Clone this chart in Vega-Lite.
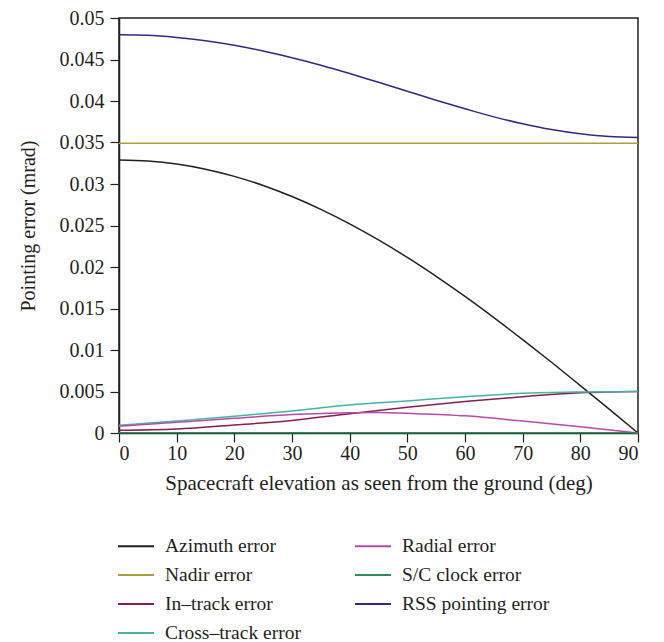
{
  "$schema": "https://vega.github.io/schema/vega-lite/v6.json",
  "width": 519,
  "height": 415,
  "autosize": {"type": "none"},
  "padding": {"left": 119, "top": 18, "right": 26, "bottom": 209},
  "background": "white",
  "config": {
    "font": "Liberation Serif",
    "view": {"stroke": "#231f20", "strokeWidth": 1.5},
    "axis": {
      "labelFont": "Liberation Serif",
      "titleFont": "Liberation Serif",
      "labelFontSize": 20,
      "titleFontSize": 20,
      "titleFontWeight": "normal",
      "labelColor": "#231f20",
      "titleColor": "#231f20",
      "domainColor": "#231f20",
      "domainWidth": 1.5,
      "tickColor": "#231f20",
      "tickWidth": 1.2,
      "tickSize": 9,
      "grid": false
    },
    "legend": {
      "labelFont": "Liberation Serif",
      "labelFontSize": 19.5,
      "labelColor": "#231f20"
    }
  },
  "datasets": {
    "errs": [
      {"e": 0, "s": "Azimuth error", "v": 0.0329},
      {"e": 5, "s": "Azimuth error", "v": 0.03277},
      {"e": 10, "s": "Azimuth error", "v": 0.0324},
      {"e": 15, "s": "Azimuth error", "v": 0.03178},
      {"e": 20, "s": "Azimuth error", "v": 0.03092},
      {"e": 25, "s": "Azimuth error", "v": 0.02982},
      {"e": 30, "s": "Azimuth error", "v": 0.02849},
      {"e": 35, "s": "Azimuth error", "v": 0.02695},
      {"e": 40, "s": "Azimuth error", "v": 0.0252},
      {"e": 45, "s": "Azimuth error", "v": 0.02326},
      {"e": 50, "s": "Azimuth error", "v": 0.02115},
      {"e": 55, "s": "Azimuth error", "v": 0.01887},
      {"e": 60, "s": "Azimuth error", "v": 0.01645},
      {"e": 65, "s": "Azimuth error", "v": 0.0139},
      {"e": 70, "s": "Azimuth error", "v": 0.01125},
      {"e": 75, "s": "Azimuth error", "v": 0.00852},
      {"e": 80, "s": "Azimuth error", "v": 0.00571},
      {"e": 85, "s": "Azimuth error", "v": 0.00287},
      {"e": 90, "s": "Azimuth error", "v": 0.0},
      {"e": 0, "s": "Nadir error", "v": 0.0349},
      {"e": 45, "s": "Nadir error", "v": 0.0349},
      {"e": 90, "s": "Nadir error", "v": 0.0349},
      {"e": 0, "s": "In–track error", "v": 0.00033},
      {"e": 10, "s": "In–track error", "v": 0.00048},
      {"e": 20, "s": "In–track error", "v": 0.00096},
      {"e": 30, "s": "In–track error", "v": 0.00152},
      {"e": 40, "s": "In–track error", "v": 0.00233},
      {"e": 50, "s": "In–track error", "v": 0.0031},
      {"e": 60, "s": "In–track error", "v": 0.0038},
      {"e": 70, "s": "In–track error", "v": 0.00437},
      {"e": 80, "s": "In–track error", "v": 0.00486},
      {"e": 90, "s": "In–track error", "v": 0.005},
      {"e": 0, "s": "Cross–track error", "v": 0.00093},
      {"e": 10, "s": "Cross–track error", "v": 0.00145},
      {"e": 20, "s": "Cross–track error", "v": 0.00201},
      {"e": 30, "s": "Cross–track error", "v": 0.00266},
      {"e": 40, "s": "Cross–track error", "v": 0.00337},
      {"e": 50, "s": "Cross–track error", "v": 0.00386},
      {"e": 60, "s": "Cross–track error", "v": 0.00437},
      {"e": 70, "s": "Cross–track error", "v": 0.00478},
      {"e": 80, "s": "Cross–track error", "v": 0.00494},
      {"e": 90, "s": "Cross–track error", "v": 0.005},
      {"e": 0, "s": "Radial error", "v": 0.0008},
      {"e": 10, "s": "Radial error", "v": 0.00129},
      {"e": 20, "s": "Radial error", "v": 0.00177},
      {"e": 30, "s": "Radial error", "v": 0.00222},
      {"e": 40, "s": "Radial error", "v": 0.00245},
      {"e": 45, "s": "Radial error", "v": 0.00248},
      {"e": 50, "s": "Radial error", "v": 0.00237},
      {"e": 60, "s": "Radial error", "v": 0.00207},
      {"e": 70, "s": "Radial error", "v": 0.00145},
      {"e": 80, "s": "Radial error", "v": 0.00076},
      {"e": 90, "s": "Radial error", "v": 0.0},
      {"e": 0, "s": "S/C clock error", "v": 0.00002},
      {"e": 90, "s": "S/C clock error", "v": 0.00002},
      {"e": 0, "s": "RSS pointing error", "v": 0.04798},
      {"e": 5, "s": "RSS pointing error", "v": 0.04792},
      {"e": 10, "s": "RSS pointing error", "v": 0.04766},
      {"e": 15, "s": "RSS pointing error", "v": 0.04726},
      {"e": 20, "s": "RSS pointing error", "v": 0.04671},
      {"e": 25, "s": "RSS pointing error", "v": 0.04602},
      {"e": 30, "s": "RSS pointing error", "v": 0.04521},
      {"e": 35, "s": "RSS pointing error", "v": 0.04431},
      {"e": 40, "s": "RSS pointing error", "v": 0.04331},
      {"e": 45, "s": "RSS pointing error", "v": 0.04225},
      {"e": 50, "s": "RSS pointing error", "v": 0.04118},
      {"e": 55, "s": "RSS pointing error", "v": 0.0401},
      {"e": 60, "s": "RSS pointing error", "v": 0.03907},
      {"e": 65, "s": "RSS pointing error", "v": 0.03809},
      {"e": 70, "s": "RSS pointing error", "v": 0.03726},
      {"e": 75, "s": "RSS pointing error", "v": 0.03656},
      {"e": 80, "s": "RSS pointing error", "v": 0.03604},
      {"e": 85, "s": "RSS pointing error", "v": 0.03571},
      {"e": 90, "s": "RSS pointing error", "v": 0.03561}
    ]
  },
  "data": {"name": "errs"},
  "mark": {"type": "line", "interpolate": "monotone", "strokeWidth": 1.5, "clip": false},
  "encoding": {
    "x": {
      "field": "e",
      "type": "quantitative",
      "scale": {"domain": [0, 90], "nice": false},
      "axis": {
        "values": [0, 10, 20, 30, 40, 50, 60, 70, 80, 90],
        "title": "Spacecraft elevation as seen from the ground (deg)",
        "titleFontSize": 21,
        "labelPadding": 1,
        "titlePadding": 9
      }
    },
    "y": {
      "field": "v",
      "type": "quantitative",
      "scale": {"domain": [0, 0.05], "nice": false},
      "axis": {
        "values": [0, 0.005, 0.01, 0.015, 0.02, 0.025, 0.03, 0.035, 0.04, 0.045, 0.05],
        "format": "~g",
        "title": "Pointing error (mrad)",
        "labelPadding": 6,
        "titlePadding": 21
      }
    },
    "color": {
      "field": "s",
      "type": "nominal",
      "scale": {
        "domain": ["Azimuth error", "Radial error", "Nadir error", "S/C clock error", "In–track error", "RSS pointing error", "Cross–track error"],
        "range": ["#231f20", "#b54aa9", "#a9a23a", "#2e8b5a", "#8a1c4e", "#2e2a85", "#45b5a2"]
      },
      "legend": {
        "title": null,
        "orient": "none",
        "legendX": -2,
        "legendY": 509,
        "columns": 2,
        "direction": "horizontal",
        "symbolType": "stroke",
        "symbolSize": 1296,
        "symbolStrokeWidth": 2,
        "labelOffset": 10,
        "columnPadding": 50,
        "rowPadding": 0
      }
    },
    "order": {"field": "e", "type": "quantitative"}
  }
}
